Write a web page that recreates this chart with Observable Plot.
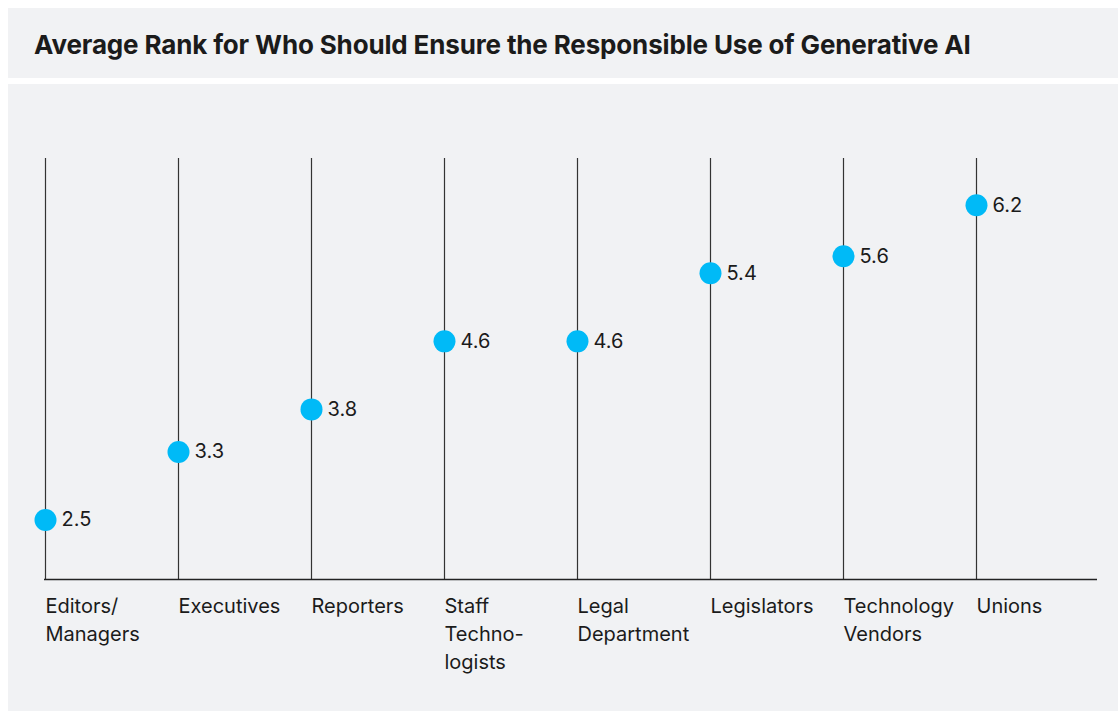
<!DOCTYPE html>
<html>
<head>
<meta charset="utf-8">
<script src="https://cdn.jsdelivr.net/npm/d3@7"></script>
<script src="https://cdn.jsdelivr.net/npm/@observablehq/plot@0.6"></script>
<style>
  html, body { margin: 0; padding: 0; background: #ffffff; }
  body { width: 1118px; height: 711px; position: relative; overflow: hidden; font-family: Inter, "Open Sans", sans-serif; }
  #title { position: absolute; left: 8px; top: 8px; width: 1110px; height: 70px; background: #f1f2f4; box-sizing: border-box; padding-left: 26px; padding-top: 2px; display: flex; align-items: center; font-size: 26px; font-weight: 700; color: #1b1b1b; letter-spacing: -0.15px; }
  #chart { position: absolute; left: 8px; top: 84px; width: 1110px; height: 627px; background: #f1f2f4; }
</style>
</head>
<body>
<div id="title">Average Rank for Who Should Ensure the Responsible Use of Generative AI</div>
<div id="chart"></div>
<script>
const categories = ["Editors/Managers", "Executives", "Reporters", "Staff Technologists", "Legal Department", "Legislators", "Technology Vendors", "Unions"];
const tickLabels = ["Editors/\nManagers", "Executives", "Reporters", "Staff\nTechno-\nlogists", "Legal\nDepartment", "Legislators", "Technology\nVendors", "Unions"];
const values = [2.5, 3.3, 3.8, 4.6, 4.6, 5.4, 5.6, 6.2];

const data = categories.map((c, i) => ({category: c, value: values[i]}));
const yMin = 1.8, yMax = 6.75;

const chart = Plot.plot({
  width: 1110,
  height: 627,
  marginTop: 74,
  marginBottom: 132,
  marginLeft: 36,
  marginRight: 21,
  x: {type: "point", domain: categories, range: [36, 969], padding: 0, label: null},
  y: {domain: [yMin, yMax], axis: null},
  style: {background: "transparent", fontFamily: "Inter, 'Open Sans', sans-serif", fontSize: "20px", color: "#1b1b1b"},
  marks: [
    Plot.ruleX(categories, {stroke: "#333333", strokeWidth: 1.2}),
    Plot.ruleY([yMin], {stroke: "#222222", strokeWidth: 1.5}),
    Plot.dot(data, {x: "category", y: "value", r: 11, fill: "#00BAF7", stroke: null}),
    Plot.text(data, {x: "category", y: "value", text: d => d.value.toFixed(1), dx: 16, textAnchor: "start", fontSize: 20, fill: "#1b1b1b"}),
    Plot.axisX({
      label: null,
      tickSize: 0,
      tickPadding: 13,
      tickFormat: d => tickLabels[categories.indexOf(d)],
      textAnchor: "start",
      lineAnchor: "top",
      lineHeight: 1.42,
      fontSize: 20,
      fill: "#1b1b1b"
    })
  ]
});
document.getElementById("chart").appendChild(chart);
</script>
</body>
</html>
